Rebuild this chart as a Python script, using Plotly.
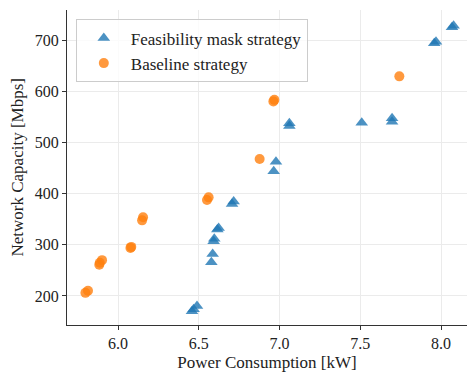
import plotly.graph_objects as go

feas_x = [8.078, 8.068, 7.969, 7.958, 7.697, 7.697, 7.509, 7.061, 7.061, 6.978, 6.964,
          6.716, 6.706, 6.623, 6.615, 6.596, 6.592, 6.586, 6.578, 6.489, 6.468, 6.458]
feas_y = [729, 726, 698, 695, 548, 541, 539, 538, 533, 463, 444,
          385, 380, 333, 330, 312, 307, 282, 266, 180, 174, 170]

base_x = [7.742, 6.968, 6.962, 6.877, 6.561, 6.551, 6.155, 6.149, 6.082, 6.077,
          5.901, 5.884, 5.887, 5.814, 5.798]
base_y = [630, 584, 581, 468, 393, 388, 354, 348, 296, 294,
          270, 261, 265, 210, 206]

font = "Liberation Serif"

fig = go.Figure()
fig.add_trace(go.Scatter(x=feas_x, y=feas_y, mode="markers", name="Feasibility mask strategy",
                         marker=dict(symbol="triangle-up", size=11, color="#1f77b4", opacity=0.8,
                                     line=dict(width=0))))
fig.add_trace(go.Scatter(x=base_x, y=base_y, mode="markers", name="Baseline strategy",
                         marker=dict(symbol="circle", size=10, color="#ff7f0e", opacity=0.8,
                                     line=dict(width=0))))

axis_common = dict(showgrid=True, gridcolor="#ebebeb", gridwidth=1, zeroline=False,
                   showline=True, linecolor="#333333", linewidth=1.2,
                   ticks="outside", ticklen=4, tickcolor="#333333", automargin=False,
                   tickfont=dict(family=font, size=16, color="#222222"))

fig.update_layout(
    width=467, height=372,
    margin=dict(l=67, r=0, t=10, b=47),
    paper_bgcolor="white", plot_bgcolor="white",
    font=dict(family=font, color="#222222"),
    showlegend=True,
    legend=dict(x=0.022, y=0.97, xanchor="left", yanchor="top",
                bgcolor="rgba(255,255,255,0.8)", bordercolor="#cccccc", borderwidth=1,
                font=dict(family=font, size=17), itemwidth=44, tracegroupgap=0),
    xaxis=dict(range=[5.684, 8.161], tickvals=[6.0, 6.5, 7.0, 7.5, 8.0],
               ticktext=["6.0", "6.5", "7.0", "7.5", "8.0"],
               title=dict(text="Power Consumption [kW]", font=dict(family=font, size=17)),
               **axis_common),
    yaxis=dict(range=[143, 760], tickvals=[200, 300, 400, 500, 600, 700],
               **axis_common),
    annotations=[dict(text="Network Capacity [Mbps]", textangle=-90, xref="paper", yref="paper",
                      x=0, y=0.5, xanchor="center", yanchor="middle", xshift=-50, showarrow=False,
                      font=dict(family=font, size=17, color="#222222"))],
)

fig.write_html("out.html", config={"displayModeBar": False},
               post_script="document.body.style.margin='0';document.body.style.overflow='hidden';")
